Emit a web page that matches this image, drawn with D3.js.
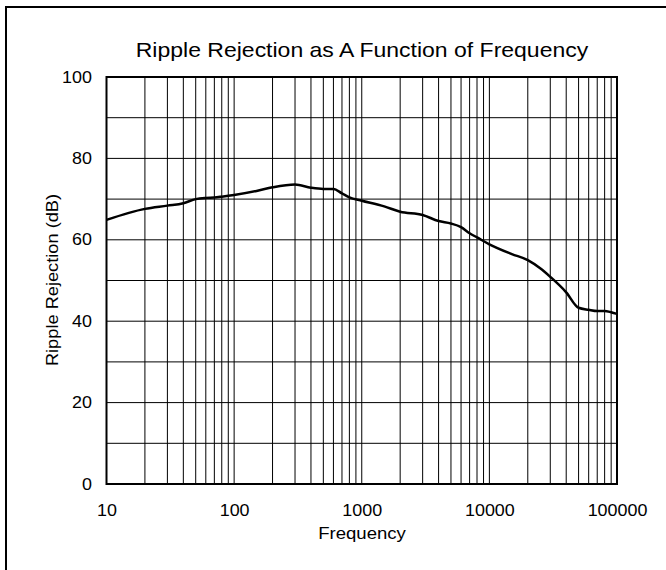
<!DOCTYPE html>
<html>
<head>
<meta charset="utf-8">
<script src="https://cdn.jsdelivr.net/npm/d3@7/dist/d3.min.js"></script>
<style>
  html, body { margin: 0; padding: 0; background: #fff; }
  svg { display: block; }
  text { font-family: "Liberation Sans", Arial, sans-serif; fill: #000; }
</style>
</head>
<body>
<svg id="chart" width="666" height="570"></svg>
<script>
// ---- data ----
const title = "Ripple Rejection as A Function of Frequency";
const xLabel = "Frequency";
const yLabel = "Ripple Rejection (dB)";
const xTicks = [10, 100, 1000, 10000, 100000];
const yTicks = [0, 20, 40, 60, 80, 100];
const frequency = [10, 20, 30, 40, 50, 60, 70, 80, 100, 150, 200, 300, 400, 500, 600, 700, 800,
  1000, 1500, 2000, 3000, 4000, 5000, 6000, 7000, 8000, 10000, 15000, 20000, 25000, 30000,
  40000, 50000, 60000, 70000, 80000, 90000, 100000];
const rejection = [64.9, 67.6, 68.4, 69.0, 70.0, 70.3, 70.4, 70.6, 71.0, 72.0, 72.9, 73.6, 72.8, 72.5, 72.5, 71.4, 70.4,
  69.6, 68.2, 66.9, 66.1, 64.6, 64.0, 63.1, 61.6, 60.6, 58.9, 56.5, 55.0, 53.0, 50.9,
  47.1, 43.3, 42.8, 42.5, 42.5, 42.2, 41.8];

const svg = d3.select("#chart");
const L = 106.5, R = 617, T = 77, B = 484;

const x = d3.scaleLog().domain([10, 100000]).range([L, R]);
const y = d3.scaleLinear().domain([0, 100]).range([B, T]);

// outer frame (only top & left visible)
svg.append("rect").attr("x", 6).attr("y", 7).attr("width", 700).attr("height", 600)
  .attr("fill", "none").attr("stroke", "#000").attr("stroke-width", 2);

// grid
const minor = [];
for (let d = 10; d < 100000; d *= 10) for (let k = 1; k <= 9; k++) minor.push(d * k);
minor.push(100000);
const g = svg.append("g");
g.selectAll("line.v").data(minor).join("line")
  .attr("x1", d => x(d)).attr("x2", d => x(d)).attr("y1", T).attr("y2", B)
  .attr("stroke", "#000").attr("stroke-width", 1);
g.selectAll("line.h").data(d3.range(0, 101, 10)).join("line")
  .attr("x1", L).attr("x2", R).attr("y1", d => y(d)).attr("y2", d => y(d))
  .attr("stroke", "#000").attr("stroke-width", 1);

// frame
svg.append("rect").attr("x", L).attr("y", T).attr("width", R - L).attr("height", B - T)
  .attr("fill", "none").attr("stroke", "#000").attr("stroke-width", 2);

// axes (labels only)
const xAxis = d3.axisBottom(x).tickValues(xTicks).tickFormat(d3.format("d")).tickSize(0).tickPadding(21);
const xa = svg.append("g").attr("transform", `translate(0,${B})`).call(xAxis);
xa.select(".domain").remove();
xa.selectAll("text").attr("font-size", 16).attr("font-family", "Liberation Sans, Arial, sans-serif")
  .attr("transform", "scale(1.12,1)");

const yAxis = d3.axisLeft(y).tickValues(yTicks).tickSize(0).tickPadding(13);
const ya = svg.append("g").attr("transform", `translate(${L},0)`).call(yAxis);
ya.select(".domain").remove();
ya.selectAll("text").attr("font-size", 16).attr("font-family", "Liberation Sans, Arial, sans-serif")
  .attr("transform", "scale(1.12,1)");

// curve
const line = d3.line().x((d, i) => x(frequency[i])).y(d => y(d)).curve(d3.curveMonotoneX);
svg.append("path").datum(rejection).attr("d", line)
  .attr("fill", "none").attr("stroke", "#000").attr("stroke-width", 2.5).attr("stroke-linejoin", "round");

// titles
svg.append("text").attr("transform", "translate(362,57) scale(1.15,1)").attr("text-anchor", "middle")
  .attr("font-size", 20).text(title);
svg.append("text").attr("transform", "translate(362,539) scale(1.16,1)").attr("text-anchor", "middle")
  .attr("font-size", 16).text(xLabel);
svg.append("text").attr("transform", "translate(58,280) rotate(-90) scale(1.14,1)").attr("text-anchor", "middle")
  .attr("font-size", 16).text(yLabel);
</script>
</body>
</html>
